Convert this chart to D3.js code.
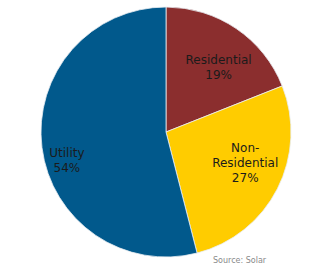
<!DOCTYPE html>
<html>
<head>
<meta charset="utf-8">
<script src="https://cdn.jsdelivr.net/npm/d3@7"></script>
<style>
  html, body { margin: 0; padding: 0; background: #fff; overflow: hidden; }
  svg { display: block; }
</style>
</head>
<body>
<svg id="chart" width="336" height="264"></svg>
<script>
// Market segments, clockwise from 12 o'clock
const segments = ["Residential", "Non-Residential", "Utility"];
const shares = [19, 27, 54];
const colors = ["#8B2E2E", "#FFCC00", "#01598C"];
// Label lines per segment
const labelLines = [["Residential", "19%"], ["Non-", "Residential", "27%"], ["Utility", "54%"]];
const sourceNote = "Source: Solar";

const svg = d3.select("#chart");
const cx = 166, cy = 132, radius = 125;

const pie = d3.pie().sort(null).value(d => d.value);
const arcs = pie(segments.map((s, i) => ({ name: s, value: shares[i], lines: labelLines[i] })));

const arc = d3.arc().innerRadius(0).outerRadius(radius);

const g = svg.append("g").attr("transform", `translate(${cx},${cy})`);

g.selectAll("path.slice")
  .data(arcs)
  .join("path")
  .attr("class", "slice")
  .attr("d", arc)
  .attr("fill", (d, i) => colors[i])
  .attr("stroke", "#e8eef2")
  .attr("stroke-width", 0.8);

// Label placement: radius and angle nudge per slice
const labelPlace = [
  { r: 84, da: 0.08 },
  { r: 85, da: -0.1 },
  { r: 103, da: -0.15 }
];
const lineH = 15;

arcs.forEach((d, i) => {
  const a = (d.startAngle + d.endAngle) / 2 + labelPlace[i].da;
  const x = Math.sin(a) * labelPlace[i].r;
  const y = -Math.cos(a) * labelPlace[i].r;
  const n = d.data.lines.length;
  const t = g.append("text")
    .attr("text-anchor", "middle")
    .attr("font-family", "DejaVu Sans, Verdana, sans-serif")
    .attr("font-size", 12)
    .attr("fill", "#1b1b1b");
  d.data.lines.forEach((line, k) => {
    t.append("tspan")
      .attr("x", x)
      .attr("y", y + (k - (n - 1) / 2) * lineH + 4.5)
      .text(line);
  });
});

// Source note along the bottom edge
svg.append("text")
  .attr("x", 213)
  .attr("y", 263)
  .attr("font-family", "DejaVu Sans, Verdana, sans-serif")
  .attr("font-size", 8)
  .attr("fill", "#8a8a8a")
  .text(sourceNote);
</script>
</body>
</html>
